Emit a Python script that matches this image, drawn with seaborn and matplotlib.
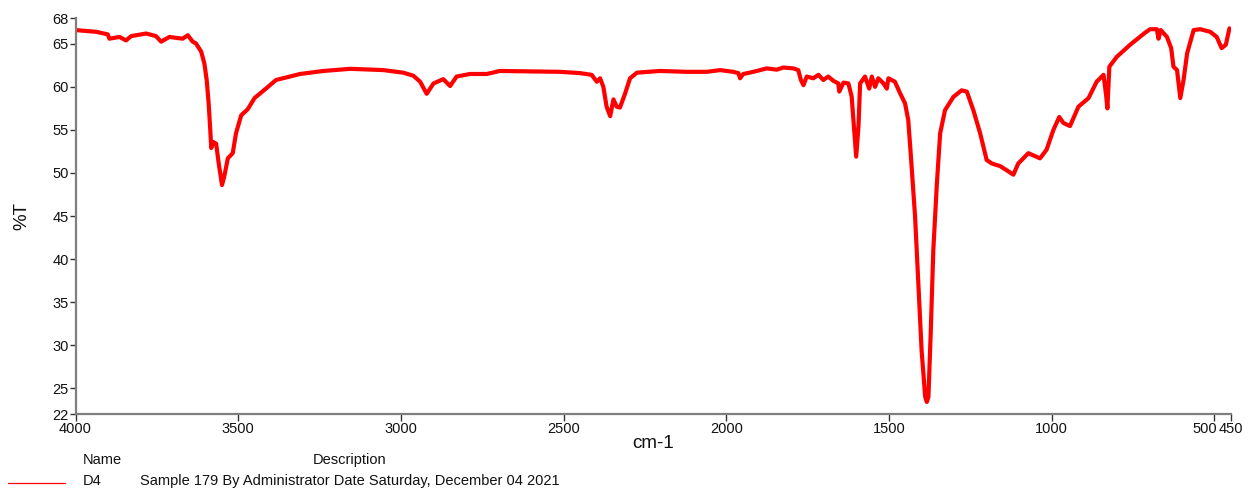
import matplotlib
matplotlib.use("Agg")
import matplotlib.pyplot as plt
import matplotlib.transforms as mtransforms
import seaborn as sns
import pandas as pd

# FTIR spectrum of sample D4 (wavenumber in cm-1, transmittance in %T)
wavenumber = [
    4000, 3937, 3901, 3896, 3865, 3845, 3829, 3783, 3753, 3737, 3712, 3671,
    3655, 3640, 3630, 3614, 3604, 3597, 3591, 3586, 3583, 3577, 3568, 3560,
    3550, 3543, 3532, 3517, 3507, 3491, 3471, 3450, 3415, 3384, 3310, 3238,
    3156, 3054, 2993, 2962, 2941, 2921, 2900, 2870, 2849, 2829, 2788, 2736,
    2696, 2511, 2450, 2414, 2398, 2388, 2378, 2368, 2357, 2347, 2337, 2327,
    2311, 2296, 2275, 2204, 2122, 2060, 2019, 1979, 1963, 1958, 1948, 1917,
    1876, 1845, 1825, 1794, 1779, 1771, 1763, 1753, 1733, 1717, 1702, 1687,
    1671, 1656, 1653, 1640, 1625, 1615, 1608, 1601, 1594, 1589, 1574, 1561,
    1553, 1543, 1533, 1517, 1507, 1502, 1482, 1466, 1451, 1441, 1433, 1420,
    1410, 1400, 1389, 1384, 1379, 1372, 1364, 1353, 1343, 1328, 1302, 1277,
    1261, 1241, 1220, 1200, 1184, 1159, 1138, 1118, 1103, 1072, 1036, 1016,
    995, 977, 964, 944, 918, 887, 862, 841, 833, 829, 823, 800,
    759, 713, 698, 677, 672, 665, 646, 633, 626, 615, 605, 595,
    584, 564, 544, 513, 493, 478, 465, 454,
]
transmittance = [
    66.6, 66.4, 66.1, 65.6, 65.8, 65.4, 65.9, 66.2, 65.9, 65.25, 65.8, 65.6,
    66.0, 65.25, 65.05, 64.1, 62.7, 60.8, 58.1, 55.0, 52.9, 53.6, 53.4, 51.1,
    48.6, 49.6, 51.7, 52.3, 54.6, 56.7, 57.4, 58.7, 59.8, 60.8, 61.5, 61.85,
    62.1, 61.95, 61.65, 61.3, 60.6, 59.2, 60.4, 60.9, 60.1, 61.2, 61.5, 61.5,
    61.85, 61.75, 61.6, 61.4, 60.6, 61.0, 60.0, 57.7, 56.6, 58.55, 57.7, 57.6,
    59.25, 61.0, 61.65, 61.85, 61.75, 61.75, 61.95, 61.75, 61.6, 61.0, 61.5, 61.75,
    62.15, 62.0, 62.25, 62.15, 61.95, 60.8, 60.2, 61.2, 61.0, 61.4, 60.8, 61.2,
    60.7, 60.4, 59.45, 60.5, 60.4, 58.9, 55.4, 51.9, 55.4, 60.4, 61.2, 59.8,
    61.2, 60.0, 61.0, 60.4, 59.8, 61.0, 60.6, 59.25, 58.1, 56.15, 52.0, 44.9,
    37.2, 29.4, 24.0, 23.4, 24.0, 31.4, 41.05, 48.8, 54.6, 57.3, 58.85, 59.6,
    59.45, 57.3, 54.6, 51.5, 51.1, 50.8, 50.3, 49.8, 51.1, 52.3, 51.7, 52.7,
    55.0, 56.5, 55.8, 55.45, 57.7, 58.7, 60.6, 61.4, 59.05, 57.5, 62.35, 63.5,
    64.9, 66.3, 66.7, 66.7, 65.6, 66.6, 65.8, 64.5, 62.35, 61.95, 58.7, 60.8,
    63.9, 66.6, 66.7, 66.4, 65.8, 64.5, 64.9, 66.8,
]

x_ticks = [4000, 3500, 3000, 2500, 2000, 1500, 1000, 500, 450]
y_ticks = [22, 25, 30, 35, 40, 45, 50, 55, 60, 65, 68]

sample_name = "D4"
sample_desc = "Sample 179 By Administrator Date Saturday, December 04 2021"

sns.set_style("white")
plt.rcParams["font.family"] = ["Liberation Sans", "DejaVu Sans"]

df = pd.DataFrame({"wavenumber": wavenumber, "T": transmittance})

fig = plt.figure(figsize=(12.51, 4.91), dpi=100)
ax = fig.add_axes([0.0604, 0.1568, 0.9234, 0.8065])

sns.lineplot(data=df, x="wavenumber", y="T", ax=ax, color="#ff0000",
             linewidth=3.0, sort=False, estimator=None)

ax.set_xlim(4000, 450)
ax.set_ylim(22, 68)
ax.set_xticks(x_ticks)
ax.set_xticklabels([str(t) for t in x_ticks])
ax.set_yticks(y_ticks)
ax.set_yticklabels([str(t) for t in y_ticks])

for side in ("top", "right"):
    ax.spines[side].set_visible(False)
for side in ("left", "bottom"):
    ax.spines[side].set_color("#7f7f7f")
    ax.spines[side].set_linewidth(1.6)

ax.tick_params(axis="both", which="major", direction="out", length=4,
               width=1.0, color="#333333", labelsize=10.5, labelcolor="#111111",
               pad=1, bottom=True, left=True)
ax.tick_params(axis="x", length=5, pad=1)

# the two closely spaced end ticks: pull the 500 label to the left of its tick
lbl500 = ax.get_xticklabels()[x_ticks.index(500)]
lbl500.set_horizontalalignment("right")
lbl500.set_transform(lbl500.get_transform() +
                     mtransforms.ScaledTranslation(3 / 100, 0, fig.dpi_scale_trans))

ax.set_xlabel("cm-1", fontsize=13.5, color="#111111", labelpad=-1)
ax.set_ylabel("%T", fontsize=13.5, color="#111111", labelpad=16)
ax.grid(False)

# legend table beneath the plot
fig.text(83 / 1251, 1 - 460 / 491, "Name", fontsize=10.5, va="center",
         ha="left", color="#111111")
fig.text(313 / 1251, 1 - 460 / 491, "Description", fontsize=10.5,
         va="center", ha="left", color="#111111")
fig.add_artist(plt.Line2D([8 / 1251, 65 / 1251], [1 - 483 / 491, 1 - 483 / 491],
                          color="#ff0000", linewidth=0.9,
                          transform=fig.transFigure))
fig.text(83 / 1251, 1 - 481 / 491, sample_name, fontsize=10.5, va="center",
         ha="left", color="#111111")
fig.text(140 / 1251, 1 - 481 / 491, sample_desc, fontsize=10.5, va="center",
         ha="left", color="#111111")

fig.savefig("out.png", dpi=100, facecolor="white")
